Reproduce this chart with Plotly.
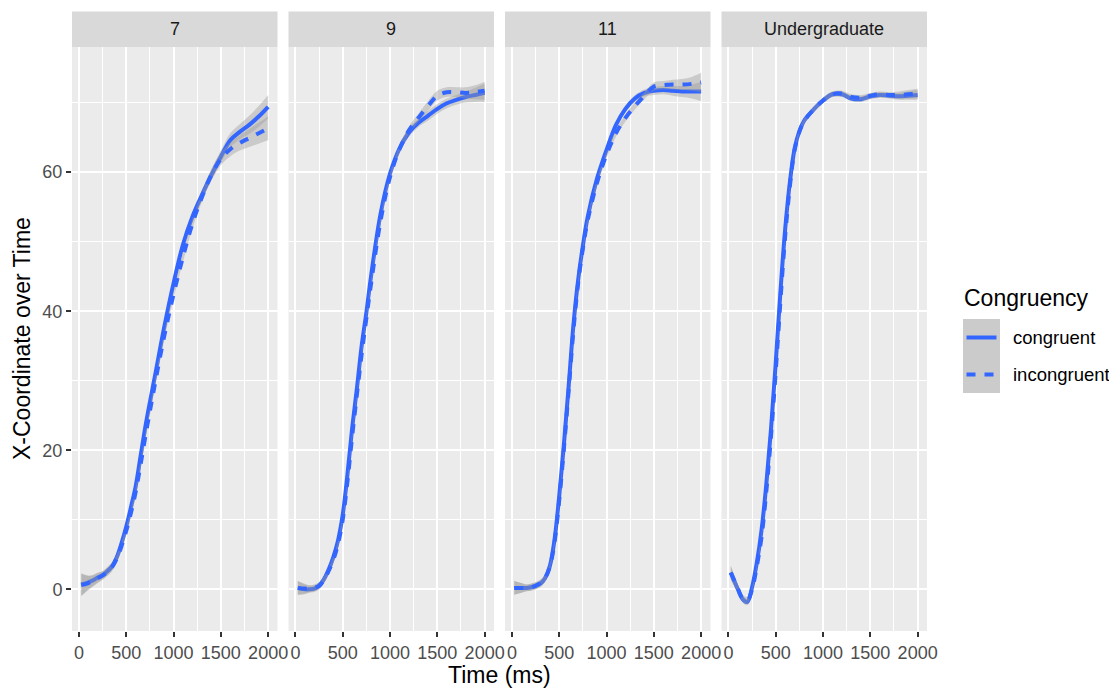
import plotly.graph_objects as go

# ---------------- data ----------------
time_ms = [25, 100, 150, 200, 250, 300, 350, 400, 450, 500, 550, 600, 650, 700,
           750, 800, 900, 1000, 1100, 1200, 1300, 1400, 1500, 1600, 1700, 1800,
           1900, 2000]

panel_labels = ["7", "9", "11", "Undergraduate"]
conditions = ["congruent", "incongruent"]

age7_congruent = [0.7, 1.0, 1.3, 1.7, 2.0, 2.6, 3.3, 4.6, 6.6, 9.0, 11.8, 14.8, 19.0, 23.2,
                  26.9, 30.4, 37.6, 44.0, 49.6, 53.6, 56.7, 59.6, 62.2, 64.6, 65.8, 66.8,
                  68.0, 69.4]
age7_incongruent = [0.6, 0.9, 1.2, 1.6, 2.0, 2.5, 3.2, 4.4, 6.2, 8.4, 11.0, 14.0, 17.8, 21.8,
                    25.6, 29.3, 36.3, 42.4, 47.8, 52.6, 56.4, 59.6, 61.9, 63.3, 64.2, 64.9,
                    65.6, 66.3]

age9_congruent = [0.2, 0.0, 0.0, 0.1, 0.5, 1.4, 2.8, 4.6, 7.0, 10.7, 16.5, 23.2, 28.9, 35.0,
                  39.8, 45.1, 54.0, 59.8, 63.4, 65.7, 67.1, 68.1, 69.1, 69.9, 70.4, 70.8,
                  71.1, 71.4]
age9_incongruent = [0.2, 0.1, 0.1, 0.2, 0.5, 1.3, 2.6, 4.2, 6.5, 10.0, 15.5, 22.0, 28.0, 33.8,
                    39.0, 44.0, 53.0, 59.3, 63.3, 66.0, 67.8, 69.5, 71.0, 71.5, 71.5, 71.4,
                    71.5, 71.7]

age11_congruent = [0.2, 0.2, 0.2, 0.3, 0.5, 0.8, 1.6, 3.3, 7.1, 13.4, 20.9, 29.2, 38.0, 44.5,
                   49.4, 53.5, 59.1, 63.2, 66.8, 69.1, 70.6, 71.4, 71.7, 71.8, 71.7, 71.6,
                   71.6, 71.6]
age11_incongruent = [0.2, 0.2, 0.2, 0.3, 0.5, 0.9, 1.6, 3.2, 6.7, 12.8, 20.3, 28.6, 37.2, 44.0,
                     49.0, 53.0, 58.5, 62.5, 65.6, 67.8, 69.5, 71.0, 72.3, 72.5, 72.6, 72.6,
                     72.7, 72.9]

ug_congruent = [2.4, 0.0, -1.4, -1.8, 0.3, 3.8, 8.5, 15.0, 23.0, 32.5, 42.8, 51.8, 58.6, 63.4,
                65.9, 67.4, 69.0, 70.3, 71.2, 71.2, 70.6, 70.5, 70.9, 71.1, 71.0, 70.9,
                71.0, 71.1]
ug_incongruent = [2.4, 0.1, -1.3, -1.6, 0.0, 3.3, 7.5, 14.0, 22.0, 31.3, 41.5, 50.8, 58.0, 63.2,
                  65.8, 67.3, 69.0, 70.3, 71.2, 71.3, 70.8, 70.7, 71.0, 71.2, 71.1, 71.1,
                  71.2, 71.3]

# half-width of the grey confidence band, per panel
band_7 = [1.6, 1.0, 0.8, 0.7, 0.6, 0.6, 0.6, 0.6, 0.6, 0.6, 0.6, 0.6, 0.6, 0.6,
          0.6, 0.6, 0.6, 0.6, 0.7, 0.7, 0.7, 0.8, 0.9, 1.0, 1.1, 1.3, 1.5, 1.7]
band_9 = [1.0, 0.7, 0.5, 0.5, 0.5, 0.5, 0.5, 0.5, 0.5, 0.5, 0.5, 0.5, 0.5, 0.5,
          0.5, 0.5, 0.5, 0.5, 0.6, 0.6, 0.6, 0.7, 0.7, 0.7, 0.7, 0.8, 1.0, 1.3]
band_11 = [1.0, 0.7, 0.5, 0.5, 0.5, 0.5, 0.5, 0.5, 0.5, 0.5, 0.5, 0.5, 0.5, 0.5,
           0.5, 0.5, 0.5, 0.5, 0.5, 0.5, 0.5, 0.5, 0.6, 0.6, 0.7, 0.8, 1.0, 1.4]
band_ug = [1.0, 0.6, 0.5, 0.5, 0.4, 0.4, 0.4, 0.4, 0.4, 0.4, 0.4, 0.4, 0.4, 0.4,
           0.4, 0.4, 0.4, 0.4, 0.4, 0.4, 0.4, 0.4, 0.4, 0.4, 0.4, 0.5, 0.6, 0.7]

series = [
    (age7_congruent, age7_incongruent, band_7),
    (age9_congruent, age9_incongruent, band_9),
    (age11_congruent, age11_incongruent, band_11),
    (ug_congruent, ug_incongruent, band_ug),
]

x_ticks = [0, 500, 1000, 1500, 2000]
y_ticks = [0, 20, 40, 60]

# ---------------- styling ----------------
FONT = "Liberation Sans, Arial, Helvetica, sans-serif"
BLUE = "#3366FF"
RIBBON = "rgba(153,153,153,0.4)"
PANEL_BG = "#EBEBEB"
STRIP_BG = "#D9D9D9"
DASH = "9px,9px"

OFF = 8  # page body margin offset
W, H = 1117 - OFF, 689 - OFF
ML, MT = 72 - OFF, 47 - OFF
PW = 855
PH = 584
MR = W - ML - PW
MB = H - MT - PH

gap = 11.0
pw = (PW - 3 * gap) / 4.0
domains = []
for i in range(4):
    a = i * (pw + gap)
    domains.append([a / PW, (a + pw) / PW])

x_range = [-73, 2099]
y_range = [-6.0, 78.0]

fig = go.Figure()

for i, (cong, incong, band) in enumerate(series):
    xa = "x" if i == 0 else f"x{i + 1}"
    ya = "y" if i == 0 else f"y{i + 1}"
    for j, (vals, cond) in enumerate(zip([cong, incong], conditions)):
        lower = [v - b for v, b in zip(vals, band)]
        upper = [v + b for v, b in zip(vals, band)]
        fig.add_trace(go.Scatter(
            x=time_ms, y=lower, xaxis=xa, yaxis=ya, mode="lines",
            line=dict(width=0, shape="spline", smoothing=1.0),
            showlegend=False, hoverinfo="skip"))
        fig.add_trace(go.Scatter(
            x=time_ms, y=upper, xaxis=xa, yaxis=ya, mode="lines",
            line=dict(width=0, shape="spline", smoothing=1.0),
            fill="tonexty", fillcolor=RIBBON,
            showlegend=False, hoverinfo="skip"))
        fig.add_trace(go.Scatter(
            x=time_ms, y=vals, xaxis=xa, yaxis=ya, mode="lines",
            name=cond,
            line=dict(color=BLUE, width=4, shape="spline", smoothing=1.0,
                      dash="solid" if j == 0 else DASH),
            showlegend=False))

layout = dict(
    width=W, height=H,
    margin=dict(l=ML, r=MR, t=MT, b=MB, pad=0),
    paper_bgcolor="white",
    plot_bgcolor=PANEL_BG,
    font=dict(family=FONT, size=18, color="#4D4D4D"),
    showlegend=False,
)

for i in range(4):
    xk = "xaxis" if i == 0 else f"xaxis{i + 1}"
    yk = "yaxis" if i == 0 else f"yaxis{i + 1}"
    ya = "y" if i == 0 else f"y{i + 1}"
    xa = "x" if i == 0 else f"x{i + 1}"
    layout[xk] = dict(
        domain=domains[i], anchor=ya, range=x_range,
        tickvals=x_ticks, ticktext=[str(v) for v in x_ticks],
        ticks="outside", ticklen=5, tickwidth=1.5, tickcolor="#333333",
        tickfont=dict(family=FONT, size=18, color="#4D4D4D"),
        showgrid=True, gridcolor="white", gridwidth=2,
        minor=dict(tickvals=[250, 750, 1250, 1750], showgrid=True,
                   gridcolor="white", gridwidth=1, ticks=""),
        zeroline=False, showline=False,
    )
    layout[yk] = dict(
        domain=[0, 1], anchor=xa, range=y_range,
        tickvals=y_ticks, ticktext=[str(v) for v in y_ticks],
        ticks="outside" if i == 0 else "", ticklen=5, tickwidth=1.5,
        tickcolor="#333333",
        showticklabels=(i == 0),
        tickfont=dict(family=FONT, size=18, color="#4D4D4D"),
        showgrid=True, gridcolor="white", gridwidth=2,
        minor=dict(tickvals=[10, 30, 50, 70], showgrid=True,
                   gridcolor="white", gridwidth=1, ticks=""),
        zeroline=False, showline=False,
    )

fig.update_layout(**layout)


def px_x(px):
    """page pixel x -> paper fraction"""
    return (px - OFF - ML) / PW


def px_y(py):
    """page pixel y -> paper fraction"""
    return (MT + PH - (py - OFF)) / PH


shapes = []
annotations = []

# strips
strip_top = px_y(11.5)
for i, lab in enumerate(panel_labels):
    shapes.append(dict(type="rect", xref="paper", yref="paper",
                       x0=domains[i][0], x1=domains[i][1], y0=1.0, y1=strip_top,
                       fillcolor=STRIP_BG, line=dict(width=0), layer="below"))
    annotations.append(dict(xref="paper", yref="paper",
                            x=(domains[i][0] + domains[i][1]) / 2,
                            y=(1.0 + strip_top) / 2, text=lab, showarrow=False,
                            xanchor="center", yanchor="middle",
                            font=dict(family=FONT, size=18, color="#1A1A1A")))

# axis titles
annotations.append(dict(xref="paper", yref="paper", x=0.5, y=px_y(675),
                        text="Time (ms)", showarrow=False,
                        xanchor="center", yanchor="middle",
                        font=dict(family=FONT, size=23, color="black")))
annotations.append(dict(xref="paper", yref="paper", x=px_x(22), y=0.5,
                        text="X-Coordinate over Time", showarrow=False,
                        textangle=-90, xanchor="center", yanchor="middle",
                        font=dict(family=FONT, size=23, color="black")))

# legend (drawn manually to match ggplot's key boxes)
annotations.append(dict(xref="paper", yref="paper", x=px_x(962), y=px_y(298),
                        text="Congruency", showarrow=False,
                        xanchor="left", yanchor="middle",
                        font=dict(family=FONT, size=23, color="black")))
key_tops = [319, 356]
for k, cond in enumerate(conditions):
    y0, y1 = key_tops[k], key_tops[k] + 37
    shapes.append(dict(type="rect", xref="paper", yref="paper",
                       x0=px_x(963), x1=px_x(1000), y0=px_y(y1), y1=px_y(y0),
                       fillcolor="#CBCBCB", line=dict(width=0)))
    yc = (y0 + y1) / 2
    shapes.append(dict(type="line", xref="paper", yref="paper",
                       x0=px_x(966.5), x1=px_x(996.5), y0=px_y(yc), y1=px_y(yc),
                       line=dict(color=BLUE, width=4,
                                 dash="solid" if k == 0 else DASH)))
    annotations.append(dict(xref="paper", yref="paper", x=px_x(1011), y=px_y(yc),
                            text=cond, showarrow=False,
                            xanchor="left", yanchor="middle",
                            font=dict(family=FONT, size=18.5, color="black")))

fig.update_layout(shapes=shapes, annotations=annotations)

fig.write_html("out.html")
